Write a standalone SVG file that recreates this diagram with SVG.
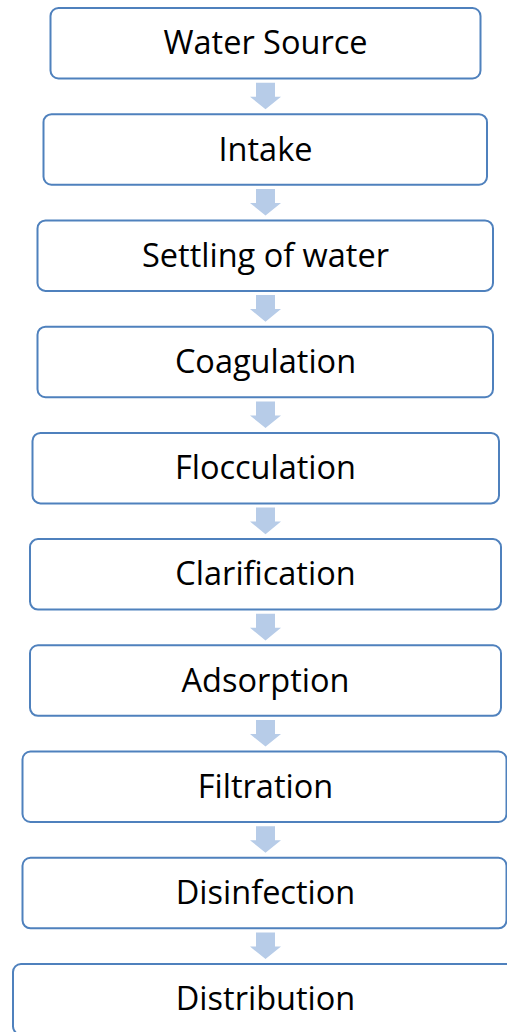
<svg xmlns="http://www.w3.org/2000/svg" width="507" height="1032" viewBox="0 0 507 1032">
<defs>
<style>
.box{fill:#ffffff;stroke:#4F81BD;stroke-width:2}
.lbl{font-family:"Open Sans","Liberation Sans",sans-serif;font-size:32.5px;fill:#000000;text-anchor:middle}
.arr{fill:#B7CCE8}
</style>
<path id="ar" d="M256,0 H275 V14 H281 L265.5,26.6 L250,14 H256 Z"/>
</defs>
<rect width="507" height="1032" fill="#ffffff"/>
<g id="connectors">
<use href="#ar" class="arr" y="82.7"/>
<use href="#ar" class="arr" y="188.9"/>
<use href="#ar" class="arr" y="295.1"/>
<use href="#ar" class="arr" y="401.4"/>
<use href="#ar" class="arr" y="507.6"/>
<use href="#ar" class="arr" y="613.8"/>
<use href="#ar" class="arr" y="720"/>
<use href="#ar" class="arr" y="826.2"/>
<use href="#ar" class="arr" y="932.5"/>
</g>
<g id="n1"><rect class="box" x="50.5" y="8" width="430" height="70.5" rx="8"/><text class="lbl" x="265.5" y="54.3">Water Source</text></g>
<g id="n2"><rect class="box" x="43.5" y="114.2" width="443.5" height="70.5" rx="8"/><text class="lbl" x="265.5" y="160.5">Intake</text></g>
<g id="n3"><rect class="box" x="37.5" y="220.4" width="455.5" height="70.5" rx="8"/><text class="lbl" x="265.5" y="266.7">Settling of water</text></g>
<g id="n4"><rect class="box" x="37.5" y="326.7" width="455.5" height="70.5" rx="8"/><text class="lbl" x="265.5" y="373">Coagulation</text></g>
<g id="n5"><rect class="box" x="32.5" y="432.9" width="466.5" height="70.5" rx="8"/><text class="lbl" x="265.5" y="479.2">Flocculation</text></g>
<g id="n6"><rect class="box" x="30" y="539.1" width="471" height="70.5" rx="8"/><text class="lbl" x="265.5" y="585.4">Clarification</text></g>
<g id="n7"><rect class="box" x="30" y="645.3" width="471" height="70.5" rx="8"/><text class="lbl" x="265.5" y="691.6">Adsorption</text></g>
<g id="n8"><rect class="box" x="22.5" y="751.5" width="484" height="70.5" rx="8"/><text class="lbl" x="265.5" y="797.8">Filtration</text></g>
<g id="n9"><rect class="box" x="22.5" y="857.8" width="484" height="70.5" rx="8"/><text class="lbl" x="265.5" y="904.1">Disinfection</text></g>
<g id="n10"><rect class="box" x="13" y="964" width="505" height="70.5" rx="8"/><text class="lbl" x="265.5" y="1010.3">Distribution</text></g>
</svg>
